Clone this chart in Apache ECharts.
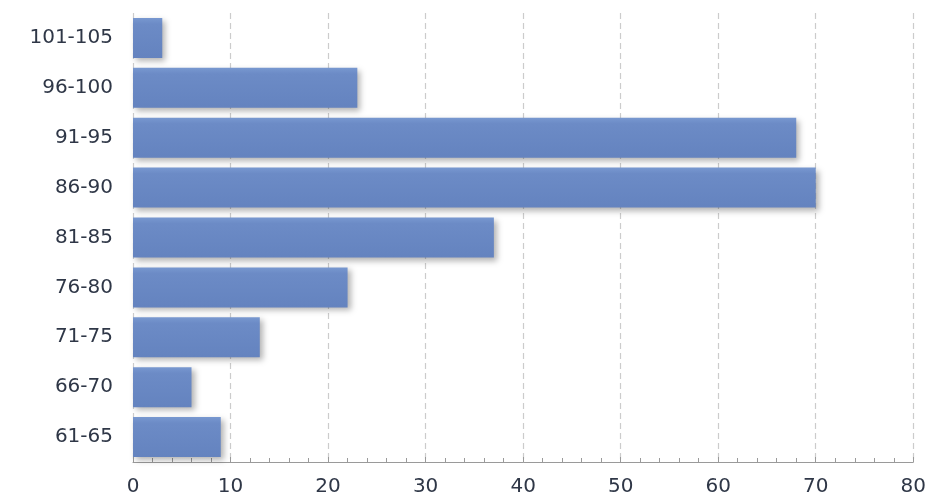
<!DOCTYPE html>
<html>
<head>
<meta charset="utf-8">
<script src="https://cdn.jsdelivr.net/npm/echarts@6/dist/echarts.min.js"></script>
<style>
    html, body { margin: 0; padding: 0; background: #ffffff; }
    #chart { width: 929px; height: 499px; }
</style>
</head>
<body>
<div id="chart"></div>
<script>
// bins from bottom to top
const categories = ['61-65', '66-70', '71-75', '76-80', '81-85', '86-90', '91-95', '96-100', '101-105'];
const counts = [9, 6, 13, 22, 37, 70, 68, 23, 3];
const xTicks = [0, 10, 20, 30, 40, 50, 60, 70, 80];

const chart = echarts.init(document.getElementById('chart'));

const option = {
    backgroundColor: '#ffffff',
    animation: false,
    grid: {
        left: 133,
        right: 13,
        top: 13,
        bottom: 37
    },
    xAxis: {
        type: 'value',
        min: xTicks[0],
        max: xTicks[xTicks.length - 1],
        interval: 10,
        axisLine: {
            show: true,
            lineStyle: { color: '#9a9a9a', width: 1 }
        },
        axisTick: {
            show: true,
            inside: true,
            length: 5,
            lineStyle: { color: '#9a9a9a' }
        },
        minorTick: {
            show: true,
            splitNumber: 5,
            length: 4,
            lineStyle: { color: '#9a9a9a' }
        },
        axisLabel: {
            margin: 15,
            fontSize: 20,
            fontFamily: 'DejaVu Sans',
            color: '#2f3747'
        },
        splitLine: {
            show: true,
            lineStyle: { color: '#cccccc', type: [6, 4], width: 1.2 }
        }
    },
    yAxis: {
        type: 'category',
        data: categories,
        axisLine: { show: false },
        axisTick: { show: false },
        axisLabel: {
            margin: 20,
            fontSize: 20,
            fontFamily: 'DejaVu Sans',
            color: '#2f3747'
        },
        splitLine: { show: false }
    },
    series: [{
        type: 'bar',
        data: counts,
        barWidth: 40,
        itemStyle: {
            color: new echarts.graphic.LinearGradient(0, 0, 0, 1, [
                { offset: 0, color: '#7898d0' },
                { offset: 0.15, color: '#6c8bc6' },
                { offset: 1, color: '#6483bf' }
            ]),
            shadowColor: 'rgba(0, 0, 0, 0.3)',
            shadowBlur: 6,
            shadowOffsetX: 3,
            shadowOffsetY: 3
        }
    }]
};

chart.setOption(option);
</script>
</body>
</html>
